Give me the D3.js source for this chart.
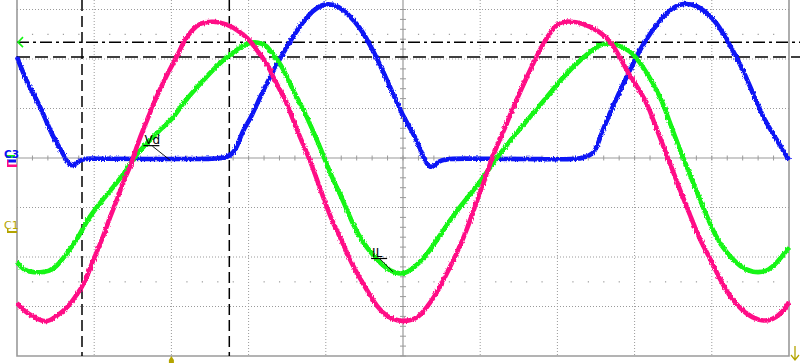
<!DOCTYPE html>
<html>
<head>
<meta charset="utf-8">
<script src="https://cdn.jsdelivr.net/npm/d3@7"></script>
<style>
  html, body { margin: 0; padding: 0; background: #fff; }
  svg { display: block; }
  .lbl { font-family: "DejaVu Sans", sans-serif; }
</style>
</head>
<body>
<div id="scope"></div>
<script>
(function(d3) {
  'use strict';

  // readings in screen divisions: [time div, volts div from centre]
  var magenta = [
    [0, -2.93], [0.078, -3.07], [0.207, -3.21], [0.337, -3.31], [0.427, -3.29], [0.531, -3.17],
    [0.648, -3.03], [0.725, -2.87], [0.842, -2.61], [0.907, -2.40], [0.997, -2.02], [1.101, -1.66],
    [1.204, -1.19], [1.295, -0.85], [1.386, -0.44], [1.464, -0.18], [1.503, 0], [1.567, 0.30],
    [1.632, 0.57], [1.697, 0.81], [1.788, 1.17], [1.891, 1.52], [2.008, 1.88], [2.073, 2.04],
    [2.150, 2.34], [2.267, 2.59], [2.370, 2.73], [2.539, 2.77], [2.720, 2.71], [2.889, 2.55],
    [3.018, 2.38], [3.122, 2.14], [3.238, 1.92], [3.316, 1.64], [3.407, 1.37], [3.497, 1.11],
    [3.575, 0.77], [3.666, 0.42], [3.795, -0.04], [3.886, -0.44], [4.016, -1.01], [4.093, -1.31],
    [4.223, -1.72], [4.352, -2.20], [4.534, -2.67], [4.663, -3.01], [4.793, -3.21], [4.961, -3.31],
    [5.181, -3.27], [5.311, -3.01], [5.440, -2.73], [5.570, -2.32], [5.699, -1.92], [5.829, -1.45],
    [5.959, -0.85], [6.062, -0.44], [6.153, 0.02], [6.295, 0.51], [6.451, 1.11], [6.606, 1.64],
    [6.736, 2.08], [6.865, 2.44], [6.995, 2.73], [7.124, 2.77], [7.332, 2.73], [7.552, 2.55],
    [7.681, 2.38], [7.811, 2.04], [7.940, 1.64], [8.070, 1.37], [8.199, 0.97], [8.238, 0.77],
    [8.394, 0.16], [8.588, -0.65], [8.718, -1.15], [8.847, -1.66], [8.977, -2.02], [9.106, -2.46],
    [9.236, -2.81], [9.404, -3.11], [9.624, -3.31], [9.793, -3.27], [9.922, -3.11], [10, -2.91]
  ];

  var inductorCurrent = [
    [0, -2.10], [0.078, -2.26], [0.207, -2.32], [0.427, -2.30], [0.531, -2.16], [0.648, -1.92],
    [0.777, -1.66], [0.907, -1.25], [1.075, -0.91], [1.244, -0.59], [1.425, -0.24], [1.554, 0.10],
    [1.723, 0.36], [1.891, 0.63], [2.008, 0.77], [2.150, 1.11], [2.332, 1.43], [2.500, 1.72],
    [2.630, 1.92], [2.759, 2.08], [2.889, 2.24], [3.018, 2.34], [3.122, 2.34], [3.238, 2.28],
    [3.316, 2.08], [3.407, 1.92], [3.497, 1.64], [3.575, 1.37], [3.666, 1.11], [3.756, 0.83],
    [3.925, 0.22], [3.990, -0.04], [4.093, -0.44], [4.223, -0.85], [4.352, -1.35], [4.482, -1.72],
    [4.663, -2.06], [4.832, -2.30], [5.0, -2.36], [5.130, -2.24], [5.285, -2.00], [5.440, -1.66],
    [5.609, -1.25], [5.777, -0.91], [6.023, -0.44], [6.218, 0.02], [6.425, 0.42], [6.645, 0.83],
    [6.865, 1.23], [7.073, 1.64], [7.293, 1.98], [7.552, 2.32], [7.720, 2.32], [7.850, 2.24],
    [7.979, 2.12], [8.109, 1.84], [8.238, 1.52], [8.368, 1.11], [8.433, 0.81], [8.588, 0.16],
    [8.718, -0.34], [8.847, -0.85], [9.067, -1.66], [9.197, -1.92], [9.365, -2.20], [9.534, -2.32],
    [9.715, -2.30], [9.845, -2.12], [10, -1.80]
  ];

  var diodeVoltage = [
    [0, 2.04], [0.13, 1.52], [0.259, 1.17], [0.363, 0.81], [0.466, 0.42], [0.596, 0.10],
    [0.687, -0.20], [0.777, -0.10], [0.855, 0], [1.075, -0.02], [1.723, -0.02], [2.370, -0.02],
    [2.759, -0.02], [2.850, 0.22], [2.927, 0.57], [3.018, 0.77], [3.148, 1.23], [3.277, 1.64],
    [3.446, 2.12], [3.627, 2.59], [3.795, 2.93], [3.964, 3.13], [4.145, 3.09], [4.275, 2.93],
    [4.443, 2.65], [4.611, 2.18], [4.793, 1.58], [4.961, 0.97], [5.052, 0.71], [5.181, 0.36],
    [5.259, 0.02], [5.350, -0.24], [5.440, -0.10], [5.518, 0], [6.140, -0.02], [6.788, -0.02],
    [7.422, -0.04], [7.513, 0.22], [7.552, 0.42], [7.642, 0.77], [7.772, 1.23], [7.940, 1.78],
    [8.109, 2.32], [8.329, 2.79], [8.497, 3.05], [8.627, 3.13], [8.808, 3.09], [8.938, 2.93],
    [9.067, 2.73], [9.197, 2.38], [9.365, 1.92], [9.534, 1.31], [9.663, 0.81], [9.845, 0.36],
    [10, -0.04]
  ];

  var timeCursors = [0.842, 2.75];      // divisions
  var levelCursors = [2.34, 2.04];      // divisions: dash-dot, dashed
  var cursorLabels = [
    { text: 'Vd', at: [1.65, 0.28], to: [1.98, -0.04] },
    { text: 'IL', at: [4.6, -2.0], to: [4.87, -2.30] }
  ];

  var W = 800, H = 363;
  var x = d3.scaleLinear().domain([0, 10]).range([17, 789]);
  var y = d3.scaleLinear().domain([-4, 4]).range([356, -40]);

  var svg = d3.select('#scope').append('svg')
    .attr('width', W).attr('height', H);

  // acquisition noise look on the traces
  var f = svg.append('defs').append('filter').attr('id', 'noise')
    .attr('x', '-5%').attr('y', '-5%').attr('width', '110%').attr('height', '110%');
  f.append('feTurbulence').attr('type', 'fractalNoise').attr('baseFrequency', '0.9 0.35')
    .attr('numOctaves', 1).attr('seed', 3).attr('result', 'n');
  f.append('feDisplacementMap').attr('in', 'SourceGraphic').attr('in2', 'n')
    .attr('scale', 3.5).attr('xChannelSelector', 'R').attr('yChannelSelector', 'G');

  var grey = '#9a9a9a';
  var grid = svg.append('g');

  // dotted graticule
  d3.range(1, 10).filter(function(i) { return i !== 5; }).forEach(function(i) {
    grid.append('line')
      .attr('x1', x(i)).attr('x2', x(i)).attr('y1', 0).attr('y2', y(-4))
      .attr('stroke', grey).attr('stroke-dasharray', '1,2');
  });
  d3.range(-3, 4).filter(function(i) { return i !== 0; }).forEach(function(i) {
    grid.append('line')
      .attr('x1', x(0)).attr('x2', x(10)).attr('y1', y(i)).attr('y2', y(i))
      .attr('stroke', grey).attr('stroke-dasharray', '1,2');
  });

  // dotted rows at +-2.5 div
  [2.5, -2.5].forEach(function(v) {
    d3.range(1, 50).filter(function(k) { return k % 5 !== 0; }).forEach(function(k) {
      grid.append('rect')
        .attr('x', x(k / 5) - 0.5).attr('y', y(v) - 0.5)
        .attr('width', 1.2).attr('height', 1.2).attr('fill', grey);
    });
  });

  // centre axes with minor ticks
  grid.append('line')
    .attr('x1', x(0)).attr('x2', x(10)).attr('y1', y(0)).attr('y2', y(0))
    .attr('stroke', grey).attr('stroke-width', 1.2);
  grid.append('line')
    .attr('x1', x(5)).attr('x2', x(5)).attr('y1', 0).attr('y2', y(-4))
    .attr('stroke', grey).attr('stroke-width', 1.2);
  d3.range(1, 50).forEach(function(k) {
    grid.append('line')
      .attr('x1', x(k / 5)).attr('x2', x(k / 5))
      .attr('y1', y(0) - 2.5).attr('y2', y(0) + 2.5)
      .attr('stroke', grey);
  });
  d3.range(-20, 21).forEach(function(k) {
    if (y(k / 5) < 0) return;
    grid.append('line')
      .attr('x1', x(5) - 3).attr('x2', x(5) + 3)
      .attr('y1', y(k / 5)).attr('y2', y(k / 5))
      .attr('stroke', grey);
  });

  // frame
  grid.append('path')
    .attr('d', 'M' + x(0) + ',0V' + y(-4) + 'H' + x(10) + 'V0')
    .attr('fill', 'none').attr('stroke', grey).attr('stroke-width', 1.6);

  // cursors
  var cur = svg.append('g').attr('stroke', '#000').attr('stroke-width', 1.5).attr('fill', 'none');
  timeCursors.forEach(function(t) {
    cur.append('line')
      .attr('x1', x(t)).attr('x2', x(t)).attr('y1', 0).attr('y2', y(-4))
      .attr('stroke-dasharray', '11,5');
  });
  cur.append('line')
    .attr('x1', x(0)).attr('x2', W).attr('y1', y(levelCursors[0])).attr('y2', y(levelCursors[0]))
    .attr('stroke-dasharray', '12,4,3,4');
  cur.append('line')
    .attr('x1', x(0)).attr('x2', W).attr('y1', y(levelCursors[1])).attr('y2', y(levelCursors[1]))
    .attr('stroke-dasharray', '13,5');

  // traces
  var line = d3.line()
    .x(function(d) { return x(d[0]); })
    .y(function(d) { return y(d[1]); })
    .curve(d3.curveBasis);

  var traces = [
    { data: diodeVoltage, color: '#0a12f5' },
    { data: inductorCurrent, color: '#12f512' },
    { data: magenta, color: '#ff0a86' }
  ];
  svg.append('g').attr('filter', 'url(#noise)')
    .selectAll('path').data(traces).enter().append('path')
    .attr('d', function(d) { return line(d.data); })
    .attr('fill', 'none')
    .attr('stroke', function(d) { return d.color; })
    .attr('stroke-width', 4.6)
    .attr('stroke-linejoin', 'round');

  // cursor labels with leaders
  var lab = svg.append('g');
  cursorLabels.forEach(function(c) {
    var lx = x(c.at[0]), ly = y(c.at[1]);
    lab.append('text').attr('class', 'lbl')
      .attr('x', lx).attr('y', ly).attr('font-size', 12).attr('fill', '#000')
      .text(c.text);
    var w = c.text.length * 7;
    lab.append('line')
      .attr('x1', lx - 1).attr('x2', lx + w + 1).attr('y1', ly + 1.5).attr('y2', ly + 1.5)
      .attr('stroke', '#000').attr('stroke-width', 1.2);
    lab.append('line')
      .attr('x1', lx + w / 2 + 1).attr('y1', ly + 2).attr('x2', x(c.to[0])).attr('y2', y(c.to[1]))
      .attr('stroke', '#000').attr('stroke-width', 0.9);
  });

  // channel markers at the left edge
  var mk = svg.append('g');
  mk.append('path')
    .attr('d', 'M23,' + (y(levelCursors[0]) - 5) + 'L18,' + y(levelCursors[0]) + 'L23,' + (y(levelCursors[0]) + 5))
    .attr('fill', 'none').attr('stroke', '#12f512').attr('stroke-width', 1.6);
  mk.append('rect').attr('x', 6).attr('y', 155).attr('width', 9).attr('height', 3).attr('fill', '#12f512');
  mk.append('text').attr('class', 'lbl').attr('x', 4).attr('y', 158)
    .attr('font-size', 10.5).attr('font-weight', 'bold').attr('fill', '#0a12f5').text('C3');
  mk.append('rect').attr('x', 7).attr('y', 159.5).attr('width', 9).attr('height', 3).attr('fill', '#0a12f5');
  mk.append('rect').attr('x', 7).attr('y', 164.5).attr('width', 10).attr('height', 2.5).attr('fill', '#ff0a86');
  mk.append('rect').attr('x', 7).attr('y', 160).attr('width', 1.5).attr('height', 7).attr('fill', '#ff0a86');

  var olive = '#b4a400';
  mk.append('text').attr('class', 'lbl').attr('x', 4).attr('y', 229)
    .attr('font-size', 11).attr('fill', olive).text('C1');
  mk.append('rect').attr('x', 7).attr('y', 231).attr('width', 10).attr('height', 2).attr('fill', olive);
  mk.append('rect').attr('x', 7).attr('y', 228.5).attr('width', 1.5).attr('height', 4.5).attr('fill', olive);

  // trigger position and delay markers
  var tx = x(2);
  mk.append('path')
    .attr('d', 'M' + (tx - 2.5) + ',360L' + tx + ',356L' + (tx + 2.5) + ',360V363H' + (tx - 2.5) + 'Z')
    .attr('fill', olive);
  mk.append('path')
    .attr('d', 'M795,346V360M791,355L795,360L799,355')
    .attr('fill', 'none').attr('stroke', olive).attr('stroke-width', 1.3);
}(d3));
</script>
</body>
</html>
